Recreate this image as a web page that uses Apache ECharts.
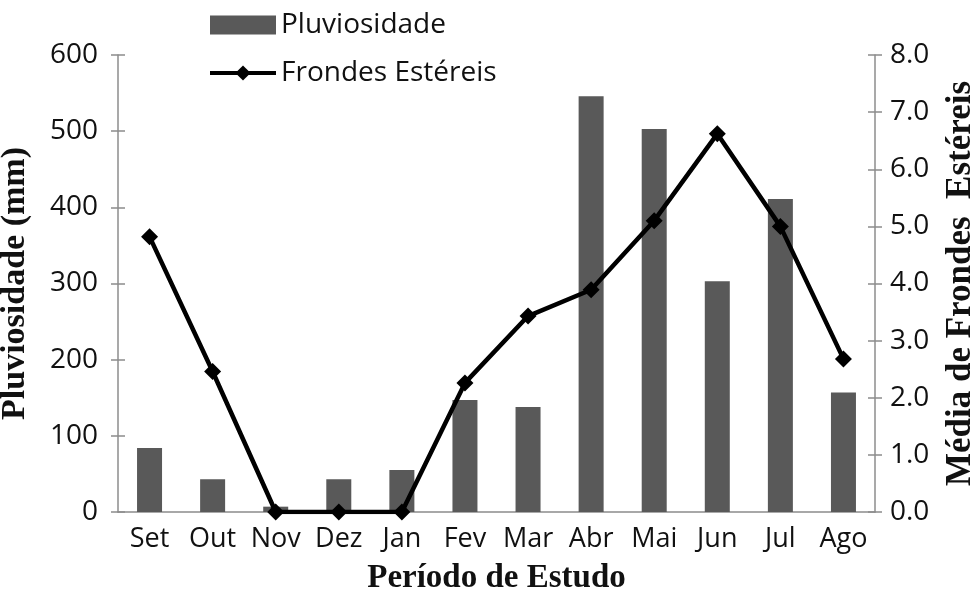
<!DOCTYPE html>
<html>
<head>
<meta charset="utf-8">
<script src="https://cdn.jsdelivr.net/npm/echarts@6/dist/echarts.min.js"></script>
<style>
  html, body { margin: 0; padding: 0; background: #fff; }
  #main { width: 970px; height: 590px; }
</style>
</head>
<body>
<div id="main"></div>
<script>
// dados
var meses = ['Set', 'Out', 'Nov', 'Dez', 'Jan', 'Fev', 'Mar', 'Abr', 'Mai', 'Jun', 'Jul', 'Ago'];
var pluviosidade = [84, 43, 7, 43, 55, 147, 138, 546, 503, 303, 411, 157];
var frondes = [4.82, 2.46, 0, 0, 0, 2.26, 3.43, 3.89, 5.10, 6.62, 5.0, 2.68];

var fonteEixo = '"Open Sans", "Noto Sans", sans-serif';
var fonteTitulo = '"Liberation Serif", "Times New Roman", serif';
var corEixo = '#8c8c8c';
var tracoEixo = { color: corEixo, width: 1.5 };

var myChart = echarts.init(document.getElementById('main'));

option = {
    animation: false,
    backgroundColor: '#fff',
    legend: {
        orient: 'vertical',
        left: 203,
        top: 4,
        itemGap: 16,
        itemWidth: 66,
        itemHeight: 19,
        textStyle: { fontFamily: fonteEixo, fontSize: 28, color: '#111', lineHeight: 32 },
        data: [
            { name: 'Pluviosidade', icon: 'rect' },
            { name: 'Frondes Estéreis', lineStyle: { width: 4 } }
        ]
    },
    grid: {
        left: 118,
        right: 95,
        top: 55,
        bottom: 78,
        outerBoundsMode: 'none',
        containLabel: false
    },
    xAxis: [
        {
            type: 'category',
            data: meses,
            boundaryGap: true,
            name: 'Período de Estudo',
            nameLocation: 'middle',
            nameGap: 50,
            nameTextStyle: { fontFamily: fonteTitulo, fontSize: 33, fontWeight: 'bold', color: '#111' },
            axisLine: { lineStyle: tracoEixo },
            axisTick: { length: 10, lineStyle: tracoEixo },
            axisLabel: { interval: 0, fontFamily: fonteEixo, fontSize: 27, color: '#111', margin: 14 }
        },
        {
            // traços acima da linha do eixo
            type: 'category',
            data: meses,
            boundaryGap: true,
            position: 'bottom',
            axisLine: { show: false },
            axisTick: { inside: true, length: 10, lineStyle: tracoEixo },
            axisLabel: { show: false }
        }
    ],
    yAxis: [
        {
            type: 'value',
            min: 0,
            max: 600,
            interval: 100,
            name: 'Pluviosidade (mm)',
            nameLocation: 'middle',
            nameGap: 86,
            nameTextStyle: { fontFamily: fonteTitulo, fontSize: 34, fontWeight: 'bold', color: '#111' },
            axisLine: { show: true, lineStyle: tracoEixo },
            axisTick: { show: true, length: 7, lineStyle: tracoEixo },
            axisLabel: { fontFamily: fonteEixo, fontSize: 28, color: '#111', margin: 20 },
            splitLine: { show: false }
        },
        {
            type: 'value',
            min: 0,
            max: 8,
            interval: 1,
            position: 'right',
            name: 'Média de Frondes  Estéreis',
            nameLocation: 'middle',
            nameGap: 68,
            nameTextStyle: { fontFamily: fonteTitulo, fontSize: 35, fontWeight: 'bold', color: '#111' },
            axisLine: { show: true, lineStyle: tracoEixo },
            axisTick: { show: true, length: 7, lineStyle: tracoEixo },
            axisLabel: {
                fontFamily: fonteEixo, fontSize: 28, color: '#111', margin: 15,
                formatter: function (v) { return v.toFixed(1); }
            },
            splitLine: { show: false }
        },
        {
            // só para os traços internos do eixo esquerdo
            type: 'value',
            min: 0,
            max: 600,
            interval: 100,
            position: 'left',
            axisLine: { show: false },
            axisTick: { show: true, inside: true, length: 7, lineStyle: tracoEixo },
            axisLabel: { show: false },
            splitLine: { show: false }
        },
        {
            // traços internos do eixo direito
            type: 'value',
            min: 0,
            max: 8,
            interval: 1,
            position: 'right',
            axisLine: { show: false },
            axisTick: { show: true, inside: true, length: 7, lineStyle: tracoEixo },
            axisLabel: { show: false },
            splitLine: { show: false }
        }
    ],
    series: [
        {
            name: 'Pluviosidade',
            type: 'bar',
            data: pluviosidade,
            barWidth: 25,
            itemStyle: { color: '#595959' }
        },
        {
            name: 'Frondes Estéreis',
            type: 'line',
            yAxisIndex: 1,
            data: frondes,
            symbol: 'diamond',
            symbolSize: 17,
            showSymbol: true,
            lineStyle: { color: '#000', width: 4.5 },
            itemStyle: { color: '#000' }
        }
    ]
};

myChart.setOption(option);
</script>
</body>
</html>
